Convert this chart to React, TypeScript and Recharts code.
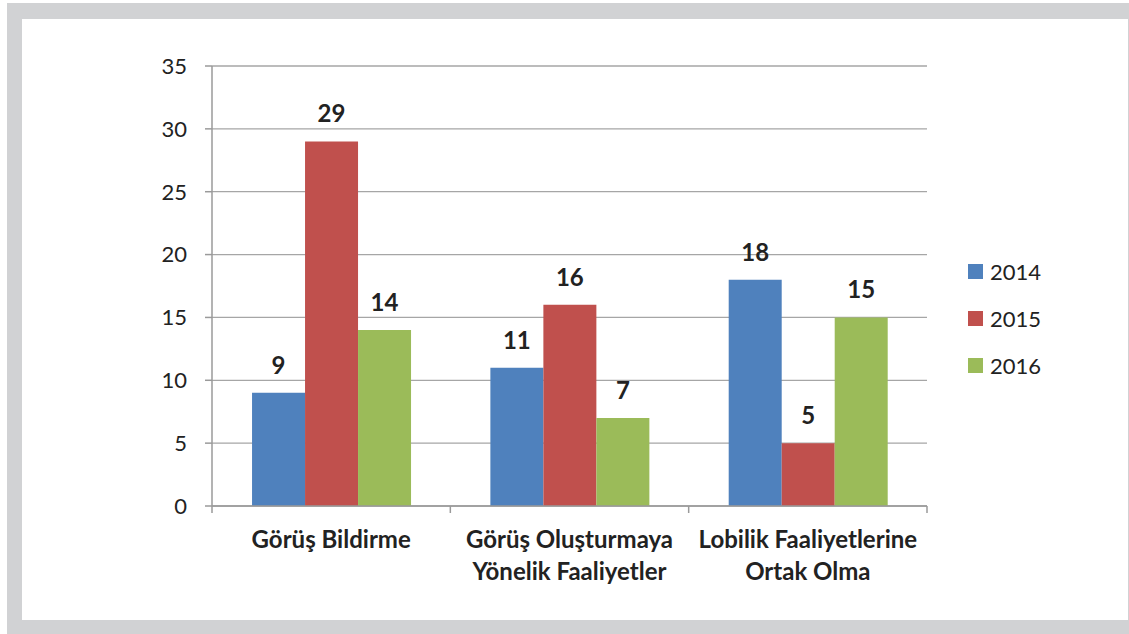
import React from "react";
import { BarChart, Bar, XAxis, YAxis, CartesianGrid, Legend, LabelList } from "recharts";

const categoryLines: string[][] = [
  ["Görüş Bildirme"],
  ["Görüş Oluşturmaya", "Yönelik Faaliyetler"],
  ["Lobilik Faaliyetlerine", "Ortak Olma"],
];
const series2014 = [9, 11, 18];
const series2015 = [29, 16, 5];
const series2016 = [14, 7, 15];
const yTicks = [0, 5, 10, 15, 20, 25, 30, 35];
const seriesNames = ["2014", "2015", "2016"];
const seriesColors = ["#4F81BD", "#C0504D", "#9BBB59"];

const data = categoryLines.map((lines, i) => ({
  name: lines.join(" "),
  lines,
  s2014: series2014[i],
  s2015: series2015[i],
  s2016: series2016[i],
}));

const W = 1129;
const H = 634;
const Y_AXIS_W = 60;
const MARGIN = { top: 66, right: 202, left: 152, bottom: 28 };
const PLOT_W = W - MARGIN.left - MARGIN.right - Y_AXIS_W;
const BAND = PLOT_W / categoryLines.length;
const FONT = "Lato, 'Open Sans', sans-serif";
const AXIS_COLOR = "#9a9a9a";

const XTick = (props: any) => {
  const { x, y, index } = props;
  const lines: string[] = data[index]?.lines ?? [];
  const left = x - BAND / 2;
  const right = x + BAND / 2;
  return (
    <g>
      <line x1={left} y1={y - 7} x2={left} y2={y} stroke={AXIS_COLOR} strokeWidth={1.5} />
      {index === data.length - 1 && (
        <line x1={right} y1={y - 7} x2={right} y2={y} stroke={AXIS_COLOR} strokeWidth={1.5} />
      )}
      <text
        x={x}
        y={y}
        textAnchor="middle"
        fill="#222"
        fontFamily={FONT}
        fontWeight="bold"
        fontSize={24}
      >
        {lines.map((l, i) => (
          <tspan key={i} x={x} dy={i === 0 ? 35 : 32}>
            {l}
          </tspan>
        ))}
      </text>
    </g>
  );
};

const LegendContent = () => (
  <div style={{ fontFamily: FONT, fontSize: 22, color: "#222" }}>
    {seriesNames.map((n, i) => (
      <div key={n} style={{ display: "flex", alignItems: "center", height: 47 }}>
        <div style={{ width: 15, height: 15, background: seriesColors[i], marginRight: 7 }} />
        <span>{n}</span>
      </div>
    ))}
  </div>
);

export default function App() {
  const labelStyle = { fontFamily: FONT, fontWeight: "bold" as const, fontSize: 24, fill: "#222" };
  return (
    <div style={{ position: "absolute", left: 0, top: 0, width: W, height: H, background: "#fff" }}>
      <div style={{ position: "absolute", left: 7, top: 3, width: W - 7, height: H - 3, background: "#d1d2d4" }} />
      <div style={{ position: "absolute", left: 22, top: 19, width: 1106, height: 601, background: "#fff" }} />
      <div style={{ position: "absolute", left: 0, top: 0 }}>
        <BarChart
          width={W}
          height={H}
          data={data}
          margin={MARGIN}
          barCategoryGap="16.8%"
          barGap={0}
        >
          <CartesianGrid vertical={false} stroke="#a6a6a6" strokeWidth={1.3} />
          <XAxis
            dataKey="name"
            interval={0}
            height={100}
            tickLine={false}
            tickSize={7}
            tickMargin={0}
            axisLine={{ stroke: AXIS_COLOR, strokeWidth: 1.5 }}
            tick={<XTick />}
          />
          <YAxis
            width={Y_AXIS_W}
            domain={[0, 35]}
            ticks={yTicks}
            interval={0}
            tickSize={7}
            tickMargin={18}
            axisLine={{ stroke: AXIS_COLOR, strokeWidth: 1.5 }}
            tickLine={{ stroke: AXIS_COLOR, strokeWidth: 1.5 }}
            tick={{ fill: "#222", fontSize: 22, fontFamily: FONT }}
          />
          <Legend
            layout="vertical"
            align="center"
            verticalAlign="middle"
            content={<LegendContent />}
            wrapperStyle={{ left: 968, top: 248, width: 130 }}
          />
          <Bar dataKey="s2014" name="2014" fill={seriesColors[0]} isAnimationActive={false}>
            <LabelList dataKey="s2014" position="top" offset={19} style={labelStyle} />
          </Bar>
          <Bar dataKey="s2015" name="2015" fill={seriesColors[1]} isAnimationActive={false}>
            <LabelList dataKey="s2015" position="top" offset={19} style={labelStyle} />
          </Bar>
          <Bar dataKey="s2016" name="2016" fill={seriesColors[2]} isAnimationActive={false}>
            <LabelList dataKey="s2016" position="top" offset={19} style={labelStyle} />
          </Bar>
        </BarChart>
      </div>
    </div>
  );
}
